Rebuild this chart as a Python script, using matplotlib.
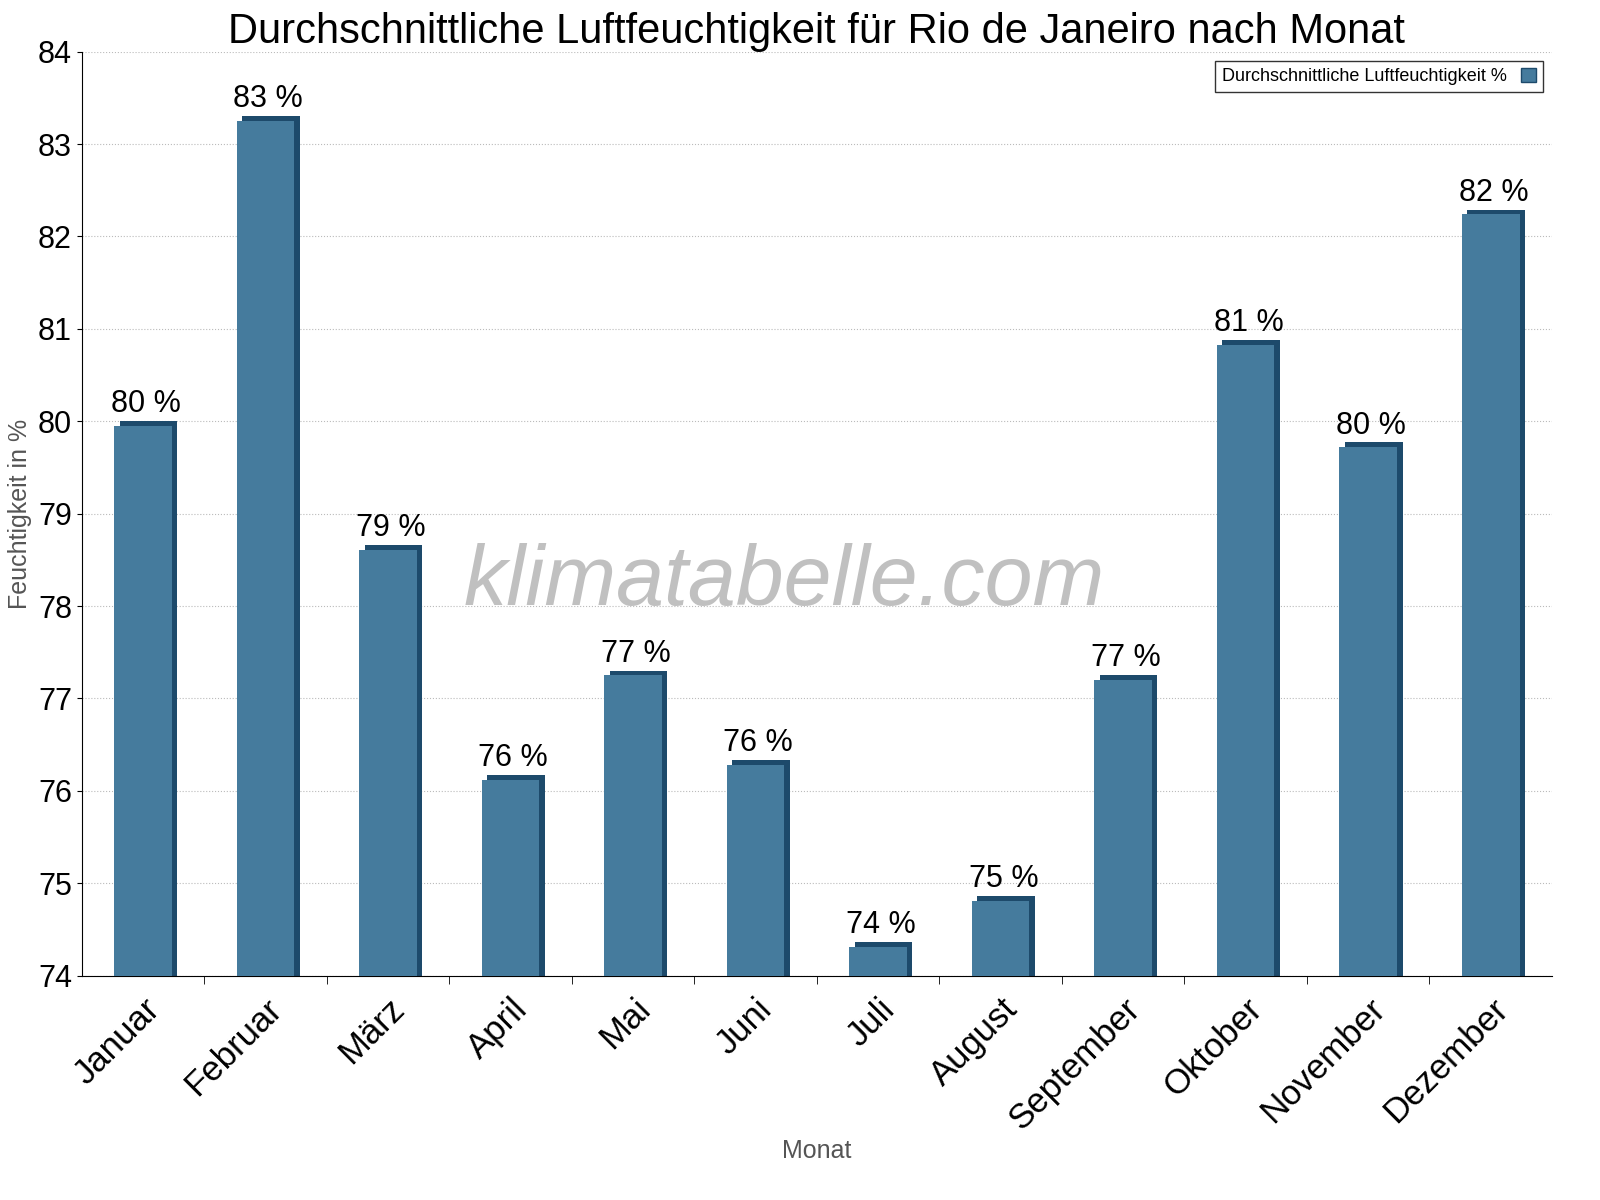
import numpy as np
import matplotlib.pyplot as plt
import matplotlib.transforms as mtransforms
from matplotlib.patches import Rectangle

plt.rcParams["font.family"] = "Liberation Sans"

months = ["Januar", "Februar", "März", "April", "Mai", "Juni", "Juli",
          "August", "September", "Oktober", "November", "Dezember"]
humidity = [80.0, 83.3, 78.66, 76.17, 77.3, 76.33, 74.36, 74.86, 77.25, 80.88, 79.77, 82.29]
labels = [f"{round(v)} %" for v in humidity]

face = "#457b9d"
dark = "#1d4a6b"

fig, ax = plt.subplots(figsize=(16, 12), dpi=100)
fig.subplots_adjust(left=0.051, right=0.97, top=0.957, bottom=0.187)

x = np.arange(len(months))
w = 0.47
dx, dy = 0.045, 0.05
base = 74
# dark side/top for a simple 3D look
ax.bar(x + dx, np.array(humidity) - base, w, bottom=base, color=dark, zorder=2)
ax.bar(x, np.array(humidity) - base - dy, w, bottom=base, color=face, zorder=3)

for xi, v, lab in zip(x, humidity, labels):
    ax.text(xi + dx / 2, v + 0.02, lab, ha="center", va="bottom", fontsize=22, zorder=4)

ax.set_xlim(-0.5, 11.5)
ax.set_ylim(74, 84)
ax.set_yticks(range(74, 85))
ax.tick_params(axis="y", labelsize=22)
ax.set_xticks(x)
ax.set_xticklabels(months, rotation=45, ha="right", rotation_mode="anchor", fontsize=25)
offset = mtransforms.ScaledTranslation(0.45, 0, fig.dpi_scale_trans)
for t in ax.get_xticklabels():
    t.set_transform(t.get_transform() + offset)
ax.set_xticks(np.arange(0.5, 11.5, 1), minor=True)
ax.tick_params(axis="x", which="major", length=0, pad=12)
ax.tick_params(axis="x", which="minor", length=6)
ax.yaxis.grid(True, linestyle=":", color="#bbbbbb", zorder=0)
ax.set_axisbelow(True)
for s in ["top", "right"]:
    ax.spines[s].set_visible(False)

ax.set_xlabel("Monat", fontsize=18, color="#555555", labelpad=2)
ax.set_ylabel("Feuchtigkeit in %", fontsize=18, color="#555555")
ax.set_title("Durchschnittliche Luftfeuchtigkeit für Rio de Janeiro nach Monat", fontsize=30, pad=6)

ax.text(0.478, 0.425, "klimatabelle.com", transform=ax.transAxes, fontsize=62,
        style="italic", color="#c0c0c0", ha="center", va="center", zorder=5)

handle = Rectangle((0, 0), 1, 1, facecolor=face, edgecolor=dark)
leg = ax.legend([handle], ["Durchschnittliche Luftfeuchtigkeit %"], loc="upper right",
                fontsize=13, frameon=True, fancybox=False, markerfirst=False,
                handlelength=0.8, handleheight=0.8, bbox_to_anchor=(1.0, 1.0))
leg.get_frame().set_edgecolor("black")

fig.savefig("out.png", dpi=100)
